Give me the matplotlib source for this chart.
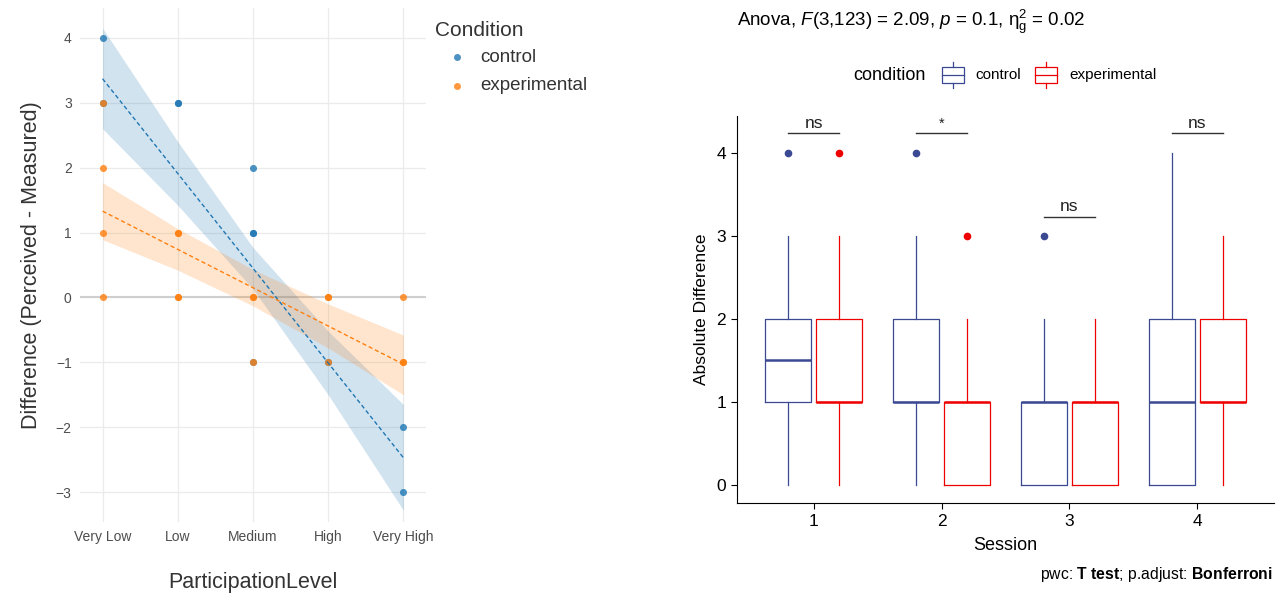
import numpy as np
import matplotlib
matplotlib.use("Agg")
import matplotlib.pyplot as plt
from matplotlib.patches import Rectangle
from matplotlib.lines import Line2D

plt.rcParams["font.family"] = ["Liberation Sans", "DejaVu Sans"]
plt.rcParams["mathtext.fontset"] = "custom"
plt.rcParams["mathtext.rm"] = "Liberation Sans"
plt.rcParams["mathtext.it"] = "Liberation Sans:italic"
plt.rcParams["mathtext.bf"] = "Liberation Sans:bold"

# ---- left panel data ----
levels = ["Very Low", "Low", "Medium", "High", "Very High"]
ctrl_x = [1, 1, 2, 2, 3, 3, 3, 3, 4, 5, 5]
ctrl_y = [4, 3, 3, 3, 2, 1, 1, -1, -1, -2, -3]
exp_x = [1, 1, 1, 1, 2, 2, 2, 2, 3, 3, 3, 4, 4, 4, 5, 5, 5]
exp_y = [3, 2, 1, 0, 1, 1, 0, 0, 0, 0, -1, 0, 0, -1, 0, -1, -1]
# fitted line and CI read at each level
ctrl_fit = [3.37, 1.91, 0.45, -1.01, -2.47]
ctrl_lo = [2.60, 1.42, 0.13, -1.50, -3.28]
ctrl_hi = [4.15, 2.40, 0.77, -0.52, -1.65]
exp_fit = [1.33, 0.74, 0.15, -0.44, -1.03]
exp_lo = [0.89, 0.42, -0.13, -0.78, -1.50]
exp_hi = [1.77, 1.06, 0.43, -0.10, -0.58]

# ---- right panel data ----
sessions = [1, 2, 3, 4]
# (whislo, q1, med, q3, whishi, outliers)
ctrl_box = [(0, 1, 1.5, 2, 3, [4]), (0, 1, 1, 2, 3, [4]),
            (0, 0, 1, 1, 2, [3]), (0, 0, 1, 2, 4, [])]
exp_box = [(0, 1, 1, 2, 3, [4]), (0, 0, 1, 1, 2, [3]),
           (0, 0, 1, 1, 2, []), (0, 1, 1, 2, 3, [])]
sig_labels = ["ns", "*", "ns", "ns"]
sig_y = [4.24, 4.24, 3.23, 4.24]

BLUE = "#1f77b4"
ORANGE = "#ff7f0e"
NAVY = "#3B4992"
RED = "#EE0000"

W, H = 1281, 594
fig = plt.figure(figsize=(W / 100, H / 100), dpi=100)

# ================= left panel =================
ax = fig.add_axes([80 / W, 1 - 522 / H, 346 / W, 514 / H])
xs = np.arange(1, 6)
for fit, lo, hi, col in [(ctrl_fit, ctrl_lo, ctrl_hi, BLUE),
                         (exp_fit, exp_lo, exp_hi, ORANGE)]:
    ax.fill_between(xs, lo, hi, color=col, alpha=0.2, lw=0, zorder=2)
    ax.plot(xs, fit, color=col, lw=1, ls=(0, (3, 2)), zorder=4)
ax.axhline(0, color="#cfcfcf", lw=1.5, zorder=1)
ax.scatter(ctrl_x, ctrl_y, s=26, color=BLUE, alpha=0.8, lw=0, zorder=3)
ax.scatter(exp_x, exp_y, s=26, color=ORANGE, alpha=0.8, lw=0, zorder=3)
ax.set_xlim(0.7, 5.3)
ax.set_ylim(-3.46, 4.46)
ax.set_xticks(xs)
ax.set_xticklabels(levels)
ax.set_yticks(range(-3, 5))
ax.grid(True, color="#ebebeb", lw=0.9, zorder=0)
ax.set_axisbelow(True)
for s in ax.spines.values():
    s.set_visible(False)
ax.tick_params(length=0, labelsize=10, labelcolor="#4d4d4d", pad=6)
ax.set_xlabel("ParticipationLevel", fontsize=15.5, color="#333333",
              labelpad=20)
ax.set_ylabel("Difference (Perceived - Measured)", fontsize=15.5,
              color="#333333", labelpad=10)

# left legend
fig.text(435 / W, 1 - 30 / H, "Condition", fontsize=15, color="#333333",
         va="center")
for yy, lab, col in [(57, "control", BLUE), (86, "experimental", ORANGE)]:
    fig.add_artist(Line2D([457 / W], [1 - yy / H], marker="o", ms=5,
                          color=col, alpha=0.8, mew=0, ls="none"))
    fig.text(480 / W, 1 - yy / H, lab, fontsize=13.5, color="#333333",
             va="center")

# ================= right panel =================
ax2 = fig.add_axes([737 / W, 1 - 503 / H, 537 / W, 387 / H])
for boxes, off, col in [(ctrl_box, -0.2, NAVY), (exp_box, 0.2, RED)]:
    stats = []
    for b in boxes:
        stats.append(dict(whislo=b[0], q1=b[1], med=b[2], q3=b[3],
                          whishi=b[4], fliers=b[5]))
    ax2.bxp(stats, positions=[s + off for s in sessions], widths=0.36,
            showcaps=False, patch_artist=False,
            boxprops=dict(color=col, lw=0.9),
            whiskerprops=dict(color=col, lw=0.9),
            medianprops=dict(color=col, lw=1.8),
            flierprops=dict(marker="o", markerfacecolor=col,
                            markeredgecolor=col, markersize=4.5))
for s, lab, yy in zip(sessions, sig_labels, sig_y):
    ax2.plot([s - 0.2, s + 0.2], [yy, yy], color="#333333", lw=1)
    fs = 12.5 if lab == "ns" else 10.5
    ax2.text(s, yy + 0.03, lab, ha="center", va="bottom", fontsize=fs,
             color="#222222")
ax2.set_xlim(0.4, 4.6)
ax2.set_ylim(-0.217, 4.446)
ax2.set_xticks(sessions)
ax2.set_xticklabels([str(s) for s in sessions])
ax2.set_yticks(range(0, 5))
ax2.spines["top"].set_visible(False)
ax2.spines["right"].set_visible(False)
ax2.tick_params(labelsize=12.5, length=4, pad=4)
ax2.set_xlabel("Session", fontsize=13, labelpad=6)
ax2.set_ylabel("Absolute Difference", fontsize=12.5, labelpad=5)

fig.text(737 / W, 1 - 22 / H,
         r"Anova, $\it{F}$(3,123) = 2.09, $\it{p}$ = 0.1, "
         r"$\mathrm{\eta}_\mathrm{g}^\mathrm{2}$ = 0.02",
         fontsize=13.5, va="center")
fig.text(1273 / W, 1 - 574 / H,
         r"pwc: $\bf{T\ test}$; p.adjust: $\bf{Bonferroni}$",
         fontsize=11.3, ha="right", va="center")

# right legend
fig.text(853 / W, 1 - 75 / H, "condition", fontsize=13, va="center")
for x0, lab, col, tx in [(942, "control", NAVY, 975),
                         (1035, "experimental", RED, 1069)]:
    fig.add_artist(Rectangle((x0 / W, 1 - 83 / H), 22 / W, 16 / H,
                             transform=fig.transFigure, fill=False,
                             ec=col, lw=0.9))
    fig.add_artist(Line2D([(x0 + 11) / W] * 2, [1 - 62 / H, 1 - 67 / H],
                          color=col, lw=0.9))
    fig.add_artist(Line2D([(x0 + 11) / W] * 2, [1 - 83 / H, 1 - 88 / H],
                          color=col, lw=0.9))
    fig.add_artist(Line2D([x0 / W, (x0 + 22) / W], [1 - 75 / H] * 2,
                          color=col, lw=0.9))
    fig.text(tx / W, 1 - 75 / H, lab, fontsize=11, va="center")

fig.savefig("out.png", dpi=100)
